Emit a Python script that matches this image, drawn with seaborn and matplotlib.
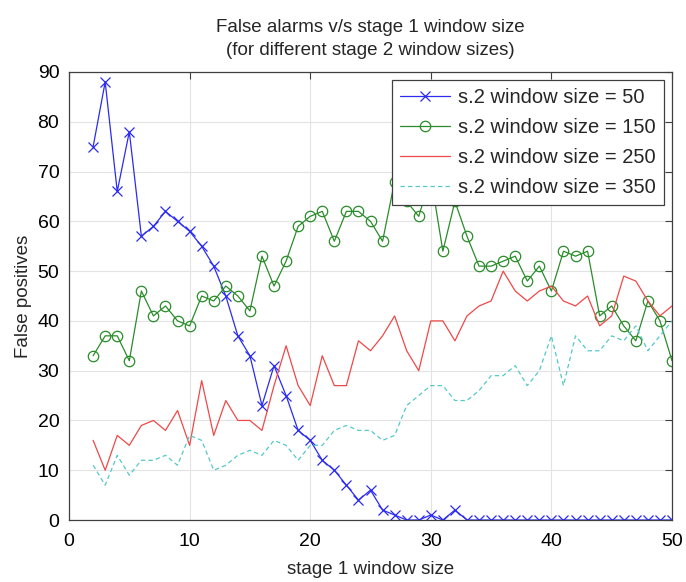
import numpy as np
import pandas as pd
import matplotlib
matplotlib.use("Agg")
import matplotlib.pyplot as plt
import seaborn as sns

# ---- data ----
x_vals = list(range(2, 51))
s50 = [75, 88, 66, 78, 57, 59, 62, 60, 58, 55, 51, 45, 37, 33, 23, 31, 25, 18, 16, 12,
       10, 7, 4, 6, 2, 1, 0, 0, 1, 0, 2] + [0] * 18
s150 = [33, 37, 37, 32, 46, 41, 43, 40, 39, 45, 44, 47, 45, 42, 53, 47, 52, 59, 61, 62,
        56, 62, 62, 60, 56, 68, 64, 61, 69, 54, 64, 57, 51, 51, 52, 53, 48, 51, 46, 54,
        53, 54, 41, 43, 39, 36, 44, 40, 32]
s250 = [16, 10, 17, 15, 19, 20, 18, 22, 15, 28, 17, 24, 20, 20, 18, 27, 35, 27, 23, 33,
        27, 27, 36, 34, 37, 41, 34, 30, 40, 40, 36, 41, 43, 44, 50, 46, 44, 46, 47, 44,
        43, 45, 39, 41, 49, 48, 44, 41, 43]
s350 = [11, 7, 13, 9, 12, 12, 13, 11, 17, 16, 10, 11, 13, 14, 13, 16, 15, 12, 15, 15,
        18, 19, 18, 18, 16, 17, 23, 25, 27, 27, 24, 24, 26, 29, 29, 31, 27, 30, 37, 27,
        37, 34, 34, 37, 36, 39, 34, 37, 40]
labels = ["s.2 window size = 50", "s.2 window size = 150",
          "s.2 window size = 250", "s.2 window size = 350"]
x_ticks = [0, 10, 20, 30, 40, 50]
y_ticks = [0, 10, 20, 30, 40, 50, 60, 70, 80, 90]
title = "False alarms v/s stage 1 window size\n(for different stage 2 window sizes)"
xlabel = "stage 1 window size"
ylabel = "False positives"

sns.set_style("white")
plt.rcParams["font.family"] = ["Liberation Sans", "DejaVu Sans"]

fig = plt.figure(figsize=(6.86, 5.82), dpi=100)
ax = fig.add_axes([0.1006, 0.1065, 0.879, 0.7698])

c_blue = "#2b2bf2"
c_green = "#2a8c2a"
c_red = "#f04848"
c_cyan = "#55c8c8"

sns.lineplot(x=x_vals, y=s50, ax=ax, color=c_blue, linewidth=0.9, marker="x",
             markersize=6.5, markeredgecolor=c_blue, markeredgewidth=0.9, label=labels[0])
sns.lineplot(x=x_vals, y=s150, ax=ax, color=c_green, linewidth=0.9, marker="o",
             markersize=7.5, markerfacecolor="none", markeredgecolor=c_green,
             markeredgewidth=0.9, label=labels[1])
sns.lineplot(x=x_vals, y=s250, ax=ax, color=c_red, linewidth=0.9, label=labels[2])
sns.lineplot(x=x_vals, y=s350, ax=ax, color=c_cyan, linewidth=0.9,
             linestyle=(0, (3.5, 2.5)), label=labels[3])

ax.set_xlim(0, 50)
ax.set_ylim(0, 90)
ax.set_xticks(x_ticks)
ax.set_yticks(y_ticks)
ax.grid(True, color="#e3e3e3", linewidth=0.8, linestyle="-")
ax.set_axisbelow(True)
ax.tick_params(direction="in", length=5, width=0.8, top=True, right=True,
               labelsize=14, colors="#404040", labelcolor="black")
ax.tick_params(axis="x", pad=9)
ax.tick_params(axis="y", pad=7)
for sp in ax.spines.values():
    sp.set_visible(True)
    sp.set_color("#404040")
    sp.set_linewidth(0.9)

ax.set_title(title, fontsize=13.5, pad=12, linespacing=1.5)
ax.set_xlabel(xlabel, fontsize=13.5, labelpad=8)
ax.set_ylabel(ylabel, fontsize=13.5, labelpad=4)

leg = ax.legend(loc="upper right", fontsize=14.5, frameon=True, fancybox=False,
                edgecolor="#404040", framealpha=1, borderaxespad=0.4,
                handlelength=2.5, handletextpad=0.4, labelspacing=0.55,
                borderpad=0.4)
leg.get_frame().set_linewidth(0.9)
leg.set_zorder(10)

fig.savefig("out.png", dpi=100)
